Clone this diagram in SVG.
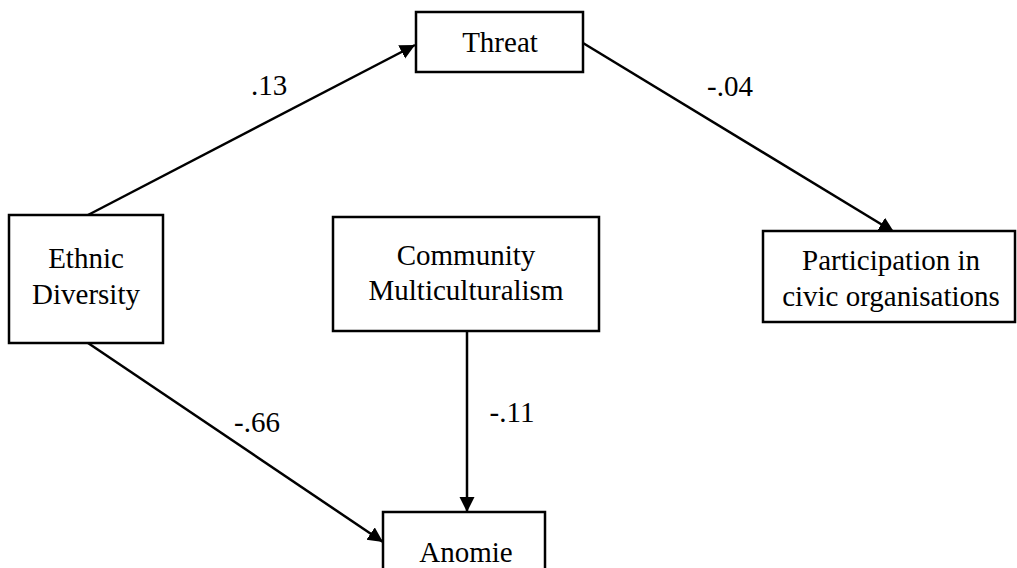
<svg xmlns="http://www.w3.org/2000/svg" width="1017" height="568" viewBox="0 0 1017 568">
<style>
.box{fill:#fff;stroke:#000;stroke-width:2.5}
.t{font-family:'Liberation Serif','Times New Roman',Times,serif;font-size:29px;fill:#000;text-anchor:middle}
.ln{stroke:#000;stroke-width:2.5;fill:none}
</style>
<defs>
<marker id="ah" markerUnits="userSpaceOnUse" markerWidth="16" markerHeight="16" refX="15" refY="7.5" orient="auto">
<path d="M0,0 L15,7.5 L0,15 z" fill="#000"/>
</marker>
</defs>
<rect width="1017" height="568" fill="#fff"/>
<g id="connectors">
<line class="ln" x1="88" y1="215" x2="415" y2="45" marker-end="url(#ah)"/>
<line class="ln" x1="88" y1="343" x2="383" y2="542" marker-end="url(#ah)"/>
<line class="ln" x1="467" y1="331" x2="467" y2="512" marker-end="url(#ah)"/>
<line class="ln" x1="583" y1="43" x2="894" y2="232" marker-end="url(#ah)"/>
<text class="t" x="269" y="95">.13</text>
<text class="t" x="730" y="96">-.04</text>
<text class="t" x="257" y="432">-.66</text>
<text class="t" x="512" y="422">-.11</text>
</g>
<g id="threat">
<rect class="box" x="416" y="12" width="167" height="60"/>
<text class="t" x="500" y="52">Threat</text>
</g>
<g id="ethnic">
<rect class="box" x="9" y="215" width="154" height="128"/>
<text class="t" x="86" y="268">Ethnic</text>
<text class="t" x="86" y="304">Diversity</text>
</g>
<g id="community">
<rect class="box" x="333" y="217" width="266" height="114"/>
<text class="t" x="466" y="265">Community</text>
<text class="t" x="466" y="300">Multiculturalism</text>
</g>
<g id="participation">
<rect class="box" x="763" y="231" width="252" height="91"/>
<text class="t" x="891" y="270">Participation in</text>
<text class="t" x="891" y="306">civic organisations</text>
</g>
<g id="anomie">
<rect class="box" x="383" y="512" width="162" height="70"/>
<text class="t" x="466" y="562">Anomie</text>
</g>
</svg>
